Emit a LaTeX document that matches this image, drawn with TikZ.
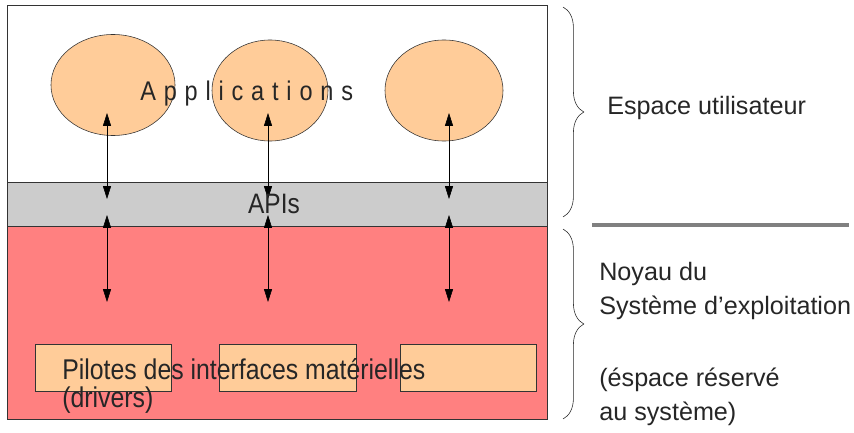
\documentclass[tikz,border=0pt]{standalone}
\usepackage{fontspec}
\setmainfont{Liberation Sans}
\newfontfamily\etroite[FakeStretch=0.87]{Liberation Sans}
\newfontfamily\espacee[FakeStretch=0.87,LetterSpace=29]{Liberation Sans}
\usetikzlibrary{arrows.meta,shapes.geometric,decorations.pathreplacing}
\definecolor{saumon}{RGB}{255,204,153}
\definecolor{rouge}{RGB}{255,128,128}
\definecolor{grisapi}{RGB}{204,204,204}
\definecolor{grissep}{RGB}{128,128,128}
\tikzset{
>={Triangle[length=3.2mm,width=2mm]},
  couche/.style={
    rectangle,
    draw=black!80, thin,
    anchor=north west,
    inner sep=0pt,
    minimum width=13.5cm},
  appli/.style={
    ellipse,
    draw=black!80, thin,
    fill=saumon,
    inner sep=0pt,
    minimum height=2.525cm},
  pilote/.style={
    rectangle,
    draw=black!80, thin,
    fill=saumon,
    anchor=north west,
    inner sep=0pt,
    minimum width=3.4cm,
    minimum height=1.175cm},
  fleche/.style={draw=black, thin, <->},
  accolade/.style={decorate, decoration={brace, amplitude=0.52cm}, thin, draw=black!85},
  texte/.style={anchor=base west, inner sep=0pt, align=left, text=black!85},
  legende/.style={texte, font=\fontsize{17.9}{23.5}\selectfont},
}
\begin{document}
\begin{tikzpicture}[x=0.025cm, y=-0.025cm]
  \useasboundingbox (0,0) rectangle (854,433);
     % les trois couches
     \node[couche, fill=white, minimum height=4.425cm] (espace-user) at (7,5) {};
     \node[couche, fill=grisapi, minimum height=1.1cm] (couche-api) at (7,182) {};
     \node[couche, fill=rouge, minimum height=4.825cm] (noyau) at (7,226) {};
     % applications
     \node[appli, minimum width=3.1cm] (app-gauche) at (113,85) {};
     \node[appli, minimum width=2.9cm] (app-milieu) at (270,90.5) {};
     \node[appli, minimum width=2.95cm] (app-droite) at (444,90.5) {};
     % pilotes
     \node[pilote] (pilote-gauche) at (35,344) {};
     \node[pilote, minimum width=3.425cm] (pilote-milieu) at (219,344) {};
     \node[pilote] (pilote-droite) at (400,344) {};
     % bouts des fleches
     \coordinate (app-g) at (107,113);
     \coordinate (app-m) at (268,113);
     \coordinate (app-d) at (449,113);
     \coordinate (api-hg) at (107,199);
     \coordinate (api-hm) at (268,199);
     \coordinate (api-hd) at (449,199);
     \coordinate (api-bg) at (107,215);
     \coordinate (api-bm) at (268,215);
     \coordinate (api-bd) at (449,215);
     \coordinate (noyau-g) at (107,302);
     \coordinate (noyau-m) at (268,302);
     \coordinate (noyau-d) at (449,302);
     \draw[fleche] (app-g) -- (api-hg);
     \draw[fleche] (app-m) -- (api-hm);
     \draw[fleche] (app-d) -- (api-hd);
     \draw[fleche] (api-bg) -- (noyau-g);
     \draw[fleche] (api-bm) -- (noyau-m);
     \draw[fleche] (api-bd) -- (noyau-d);
     % textes des couches
     \node[texte, font=\espacee\fontsize{19.2}{22}\selectfont] (applications) at (140,100) {Applications};
     \node[texte, anchor=base, font=\etroite\fontsize{20}{22}\selectfont] (apis) at (274,213) {APIs};
     \node[texte, font=\etroite\fontsize{20.3}{19.9}\selectfont] (pilotes) at (62,407) {Pilotes des interfaces matérielles\\(drivers)};
     % accolades
     \coordinate (user-haut) at (563,7);
     \coordinate (user-bas) at (563,217);
     \coordinate (noyau-haut) at (563,229);
     \coordinate (noyau-bas) at (563,419);
     \draw[accolade] (user-haut) -- (user-bas);
     \draw[accolade] (noyau-haut) -- (noyau-bas);
     \coordinate (sep-gauche) at (592,225);
     \coordinate (sep-droite) at (849,225);
     \draw[line width=3.4pt, draw=grissep] (sep-gauche) -- (sep-droite);
     \node[legende] (esp-user) at (607,114) {Espace utilisateur};
     \node[legende] (esp-noyau) at (599,314) {Noyau du\\Système d’exploitation};
     \node[legende] (esp-reserve) at (599,420) {(éspace réservé\\au système)};
  \end{tikzpicture}
\end{document}
